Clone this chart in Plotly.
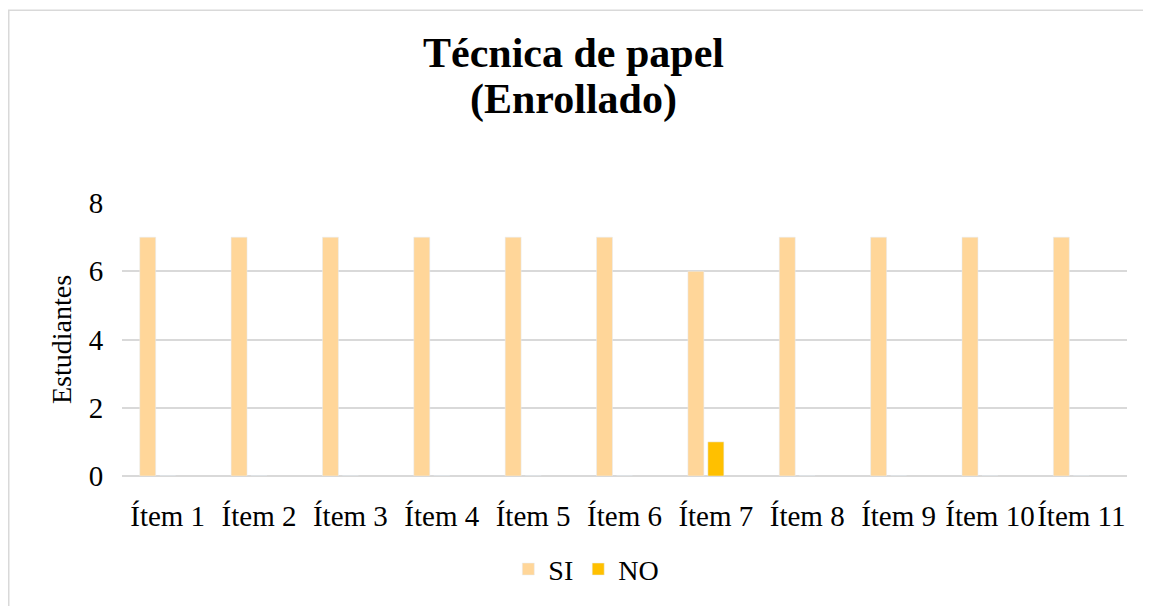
import plotly.graph_objects as go

categories = ["Ítem 1", "Ítem 2", "Ítem 3", "Ítem 4", "Ítem 5", "Ítem 6",
              "Ítem 7", "Ítem 8", "Ítem 9", "Ítem 10", "Ítem 11"]
si_values = [7, 7, 7, 7, 7, 7, 6, 7, 7, 7, 7]
no_values = [0, 0, 0, 0, 0, 0, 1, 0, 0, 0, 0]
empty_values = [None] * len(categories)
y_ticks = [0, 2, 4, 6, 8]
title_lines = ["Técnica de papel", "(Enrollado)"]

FONT = "Liberation Serif, Times New Roman, serif"

# page has 8px body margin; figure is shifted accordingly
W, H = 1143, 598
L, R, T, B = 114, 24, 195, 128
plot_h = H - T - B
plot_w = W - L - R

fig = go.Figure()
fig.add_trace(go.Bar(name="SI", x=categories, y=si_values, marker_color="#FFD699"))
fig.add_trace(go.Bar(name="NO", x=categories, y=no_values, marker_color="#FFC000"))
fig.add_trace(go.Bar(name="", x=categories, y=empty_values, showlegend=False,
                     marker_color="rgba(0,0,0,0)", hoverinfo="skip"))

annotations = []
for line, py in zip(title_lines, [44, 91]):
    annotations.append(dict(text="<b>%s</b>" % line, xref="paper", yref="paper",
                            x=0.449, y=(H - B - py) / plot_h, xanchor="center",
                            yanchor="middle", showarrow=False,
                            font=dict(size=42, family=FONT, color="black")))

fig.update_layout(
    width=W, height=H,
    margin=dict(l=L, r=R, t=T, b=B),
    paper_bgcolor="white", plot_bgcolor="white",
    font=dict(family=FONT, color="black"),
    barmode="group", bargap=0.344, bargroupgap=0.2,
    showlegend=True,
    legend=dict(orientation="h", x=0.462, xanchor="center",
                y=(H - B - 564) / plot_h, yanchor="middle",
                font=dict(size=28, family=FONT), itemwidth=30, traceorder="normal"),
    xaxis=dict(tickfont=dict(size=29, family=FONT), showline=False,
               ticks="outside", ticklen=14, tickcolor="rgba(0,0,0,0)",
               tickangle=0, showgrid=False),
    yaxis=dict(range=[0, 8], tickvals=y_ticks, tickfont=dict(size=29, family=FONT),
               showgrid=True, gridcolor="#D9D9D9", gridwidth=1.5,
               zeroline=True, zerolinecolor="#D9D9D9", zerolinewidth=1.5,
               showline=False, ticks="outside", ticklen=12, tickcolor="rgba(0,0,0,0)",
               title=dict(text="Estudiantes", font=dict(size=28, family=FONT), standoff=8)),
    annotations=annotations,
    shapes=[dict(type="rect", xref="paper", yref="paper",
                 x0=(0.75 - L) / plot_w, x1=(W + 20 - L) / plot_w,
                 y0=-(B + 20) / plot_h, y1=(H - B - 0.75) / plot_h,
                 line=dict(color="#D9D9D9", width=1.5), fillcolor="rgba(0,0,0,0)",
                 layer="below")],
)

fig.write_html("out.html")
